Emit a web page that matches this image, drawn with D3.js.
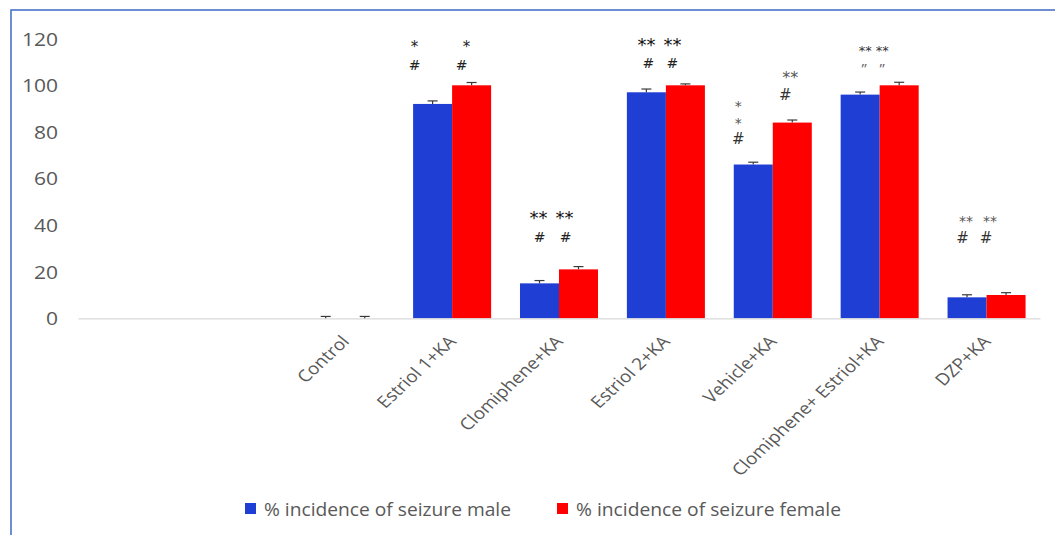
<!DOCTYPE html>
<html><head><meta charset="utf-8">
<script src="https://cdn.jsdelivr.net/npm/d3@7"></script>
<style>
html,body{margin:0;padding:0;background:#fff;}
svg{display:block;font-family:"Open Sans",sans-serif;}
</style></head>
<body>
<svg id="chart" width="1055" height="535"></svg>
<script>
// ---- data ----
const categories = ["", "", "Control", "Estriol 1+KA", "Clomiphene+KA", "Estriol 2+KA", "Vehicle+KA", "Clomiphene+ Estriol+KA", "DZP+KA"];
const seriesNames = ["% incidence of seizure male", "% incidence of seizure female"];
const maleValues   = [null, null, 0, 92, 15, 97, 66, 96, 9];
const femaleValues = [null, null, 0, 100, 21, 100, 84, 100, 10];
const maleErrors   = [null, null, 0.8, 1.3, 1.2, 1.4, 1.0, 1.1, 1.1];
const femaleErrors = [null, null, 0.8, 1.2, 1.2, 0.6, 1.1, 1.3, 1.0];
const yTicks = [0, 20, 40, 60, 80, 100, 120];
// significance marks: category index, series (0 male, 1 female), text, level in % units
const annoCategory = [3, 3, 3, 3, 4, 4, 4, 4, 5, 5, 5, 5, 6, 6, 6, 6, 6, 7, 7, 7, 7, 8, 8, 8, 8];
const annoSeries   = [0, 0, 1, 1, 0, 0, 1, 1, 0, 0, 1, 1, 0, 0, 0, 1, 1, 0, 0, 1, 1, 0, 0, 1, 1];
const annoText     = ["*", "#", "*", "#", "**", "#", "**", "#", "**", "#", "**", "#", "*", "*", "#", "**", "#", "**", "\u201D", "**", "\u201D", "**", "#", "**", "#"];
const annoLevel    = [118.8, 108.8, 118.8, 108.8, 45.8, 34.8, 45.8, 34.8, 120.3, 109.6, 120.3, 109.6, 93.1, 85.9, 77.3, 105.7, 95.9, 117, 109.8, 117, 109.8, 43.7, 34.6, 43.7, 34.6];

// ---- layout ----
const svg = d3.select("#chart");
const colors = ["#1F3FD4", "#FF0000"];
const textColor = "#595959";
const stretch = "scale(1.2,1)";

// frame (only left & top visible in crop)
svg.append("rect").attr("x", 11).attr("y", 10).attr("width", 1100).attr("height", 600)
  .attr("fill", "#fff").attr("stroke", "#4A72C8").attr("stroke-width", 1.6);

const x = d3.scaleBand().domain(d3.range(categories.length)).range([78, 1040])
  .paddingInner(0.27).paddingOuter(0.135);
const xs = d3.scaleBand().domain([0, 1]).range([0, x.bandwidth()]);
const y = d3.scaleLinear().domain([0, 120]).range([318.3, 38.7]);

// y axis (labels only)
const yAxis = d3.axisLeft(y).tickValues(yTicks).tickSize(0).tickPadding(0);
const gy = svg.append("g").attr("transform", "translate(58,0)").call(yAxis);
gy.select(".domain").remove();
gy.selectAll("text").attr("fill", textColor).style("font-size", "17.5px")
  .style("font-family", "'Open Sans',sans-serif").attr("dy", "0.36em").attr("x", 0)
  .attr("transform", stretch);

// bars
const seriesVals = [maleValues, femaleValues];
const seriesErrs = [maleErrors, femaleErrors];
const rows = [];
categories.forEach((c, i) => {
  [0, 1].forEach(s => {
    if (seriesVals[s][i] !== null) rows.push({i, s, v: seriesVals[s][i], e: seriesErrs[s][i]});
  });
});
svg.append("g").selectAll("rect").data(rows).join("rect")
  .attr("x", d => x(d.i) + xs(d.s))
  .attr("width", xs.bandwidth())
  .attr("y", d => y(d.v))
  .attr("height", d => y(0) - y(d.v))
  .attr("fill", d => colors[d.s]);

// x axis baseline + labels
const xAxis = d3.axisBottom(x).tickSize(0).tickFormat(i => categories[i]);
const gx = svg.append("g").attr("transform", `translate(0,${y(0)})`).call(xAxis);
gx.select(".domain").attr("stroke", "#D9D9D9").attr("stroke-width", 1.2);
gx.selectAll("text").attr("fill", textColor).style("font-size", "16.5px")
  .style("font-family", "'Open Sans',sans-serif")
  .attr("text-anchor", "end")
  .attr("transform", "translate(5,24) scale(1.15,1) rotate(-47)")
  .attr("y", 0).attr("dy", 0);

// error bars (plus direction)
const eb = svg.append("g").attr("stroke", "#3a3a3a").attr("stroke-width", 1.2);
rows.forEach(d => {
  const cx = x(d.i) + xs(d.s) + xs.bandwidth() / 2;
  eb.append("line").attr("x1", cx).attr("x2", cx).attr("y1", y(d.v)).attr("y2", y(d.v + d.e));
  eb.append("line").attr("x1", cx - 5).attr("x2", cx + 5).attr("y1", y(d.v + d.e)).attr("y2", y(d.v + d.e));
});

// annotations
const annoDx = [-18, -18, -5, -10, -1, 0, -14, -13, 0, 2, -13, -13, -15, -15, -15, -2, -7, 5, 4, -17, -17, -1, -4.5, -16, -20];
const annoSize = [15, 14, 15, 14, 18, 14, 18, 14, 18, 14, 18, 14, 14, 14, 15, 16, 15, 13, 15, 13, 15, 14, 15, 14, 15];
const annoFill = ["#222","#222","#222","#222","#111","#222","#111","#222","#111","#222","#111","#222","#555","#555","#333","#555","#333","#333","#666","#333","#666","#555","#333","#555","#333"];
const ag = svg.append("g");
annoText.forEach((t, k) => {
  const i = annoCategory[k], s = annoSeries[k];
  const cx = x(i) + xs(s) + xs.bandwidth() / 2 + annoDx[k];
  const star = t.indexOf("*") >= 0;
  const ditto = t === "\u201D";
  ag.append("text").attr("x", cx).attr("y", y(annoLevel[k]))
    .attr("text-anchor", "middle")
    .attr("dy", star ? "0.7em" : (ditto ? "0.75em" : "0.36em"))
    .attr("fill", annoFill[k])
    .style("font-family", ditto ? "'Open Sans',sans-serif" : "'DejaVu Sans',sans-serif")
    .style("font-size", annoSize[k] + "px")
    .text(t);
});

// legend
const legX = [245, 557];
const legTextLen = [247, 265];
seriesNames.forEach((n, s) => {
  svg.append("rect").attr("x", legX[s]).attr("y", 503).attr("width", 11).attr("height", 11).attr("fill", colors[s]);
  svg.append("text").attr("x", legX[s] + 19).attr("y", 515.5).attr("fill", textColor)
    .style("font-size", "18px").attr("textLength", legTextLen[s]).attr("lengthAdjust", "spacingAndGlyphs")
    .text(n);
});
</script>
</body></html>
